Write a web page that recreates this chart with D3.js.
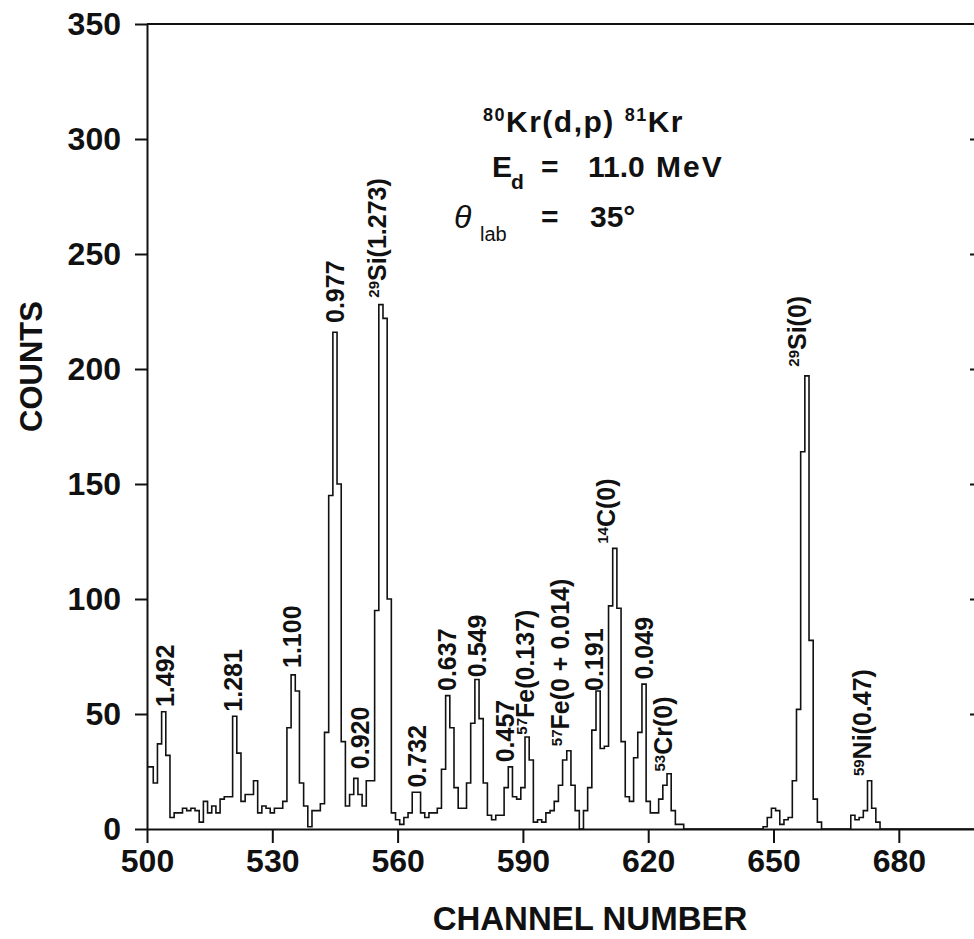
<!DOCTYPE html>
<html>
<head>
<meta charset="utf-8">
<script src="https://cdn.jsdelivr.net/npm/d3@7"></script>
<style>
  body { margin: 0; background: #fff; }
  text { font-family: "Liberation Sans", Arial, sans-serif; font-weight: bold; fill: #111; }
</style>
</head>
<body>
<svg id="chart" width="974" height="939"></svg>
<script>
// counts per channel, starting at channel 500
const firstChannel = 500;
const counts = [
  27, 27, 20, 37, 51, 32, 5, 7, 7, 9,          // 500-509
  8, 9, 8, 3, 12, 7, 10, 7, 13, 14,           // 510-519
  14, 49, 33, 12, 15, 15, 21, 7, 10, 9,       // 520-529
  7, 9, 9, 12, 44, 67, 60, 20, 10, 1,         // 530-539
  8, 8, 11, 42, 145, 216, 150, 38, 10, 15,    // 540-549
  22, 15, 10, 21, 21, 95, 228, 222, 100, 7,   // 550-559
  4, 2, 5, 7, 16, 16, 7, 5, 7, 7,             // 560-569
  9, 26, 58, 44, 18, 9, 9, 20, 46, 65,        // 570-579
  48, 20, 6, 4, 6, 6, 18, 27, 14, 13,         // 580-589
  18, 40, 30, 3, 4, 3, 7, 8, 12, 19,          // 590-599
  30, 34, 19, 8, 0, 8, 18, 43, 60, 35,        // 600-609
  36, 97, 122, 96, 38, 14, 12, 31, 42, 63,    // 610-619
  12, 7, 7, 13, 19, 24, 8, 2, 2, 0,           // 620-629
  0, 0, 0, 0, 0, 0, 0, 0, 0, 0,               // 630-639
  0, 0, 0, 0, 0, 0, 0, 0, 1, 5,               // 640-649
  9, 8, 2, 4, 5, 21, 52, 164, 197, 82,        // 650-659
  13, 3, 0, 0, 0, 0, 0, 0, 0, 6,              // 660-669
  4, 5, 8, 21, 9, 3, 0, 0, 0, 0,              // 670-679
  0, 0, 0, 0, 0, 0, 0, 0, 0, 0,               // 680-689
  0, 0, 0, 0, 0, 0, 0, 0, 0                   // 690-698
];

const xTicks = [500, 530, 560, 590, 620, 650, 680];
const yTicks = [0, 50, 100, 150, 200, 250, 300, 350];
const rightTicks = [50, 100, 150, 200, 250, 300];

// peak labels: mass number (superscript), text, channel and count where the label starts
const peakLabels = [
  { mass: "", name: "1.492", ch: 504.3, at: 53 },
  { mass: "", name: "1.281", ch: 520.7, at: 51 },
  { mass: "", name: "1.100", ch: 534.8, at: 70 },
  { mass: "", name: "0.977", ch: 545.0, at: 220 },
  { mass: "29", name: "Si(1.273)", ch: 557.2, at: 231 },
  { mass: "", name: "0.920", ch: 551.0, at: 26 },
  { mass: "", name: "0.732", ch: 564.7, at: 18 },
  { mass: "", name: "0.637", ch: 571.8, at: 60 },
  { mass: "", name: "0.549", ch: 579.0, at: 66 },
  { mass: "", name: "0.457", ch: 585.8, at: 29 },
  { mass: "57", name: "Fe(0.137)", ch: 592.6, at: 41 },
  { mass: "57", name: "Fe(0 + 0.014)", ch: 601.0, at: 36 },
  { mass: "", name: "0.191", ch: 607.0, at: 60 },
  { mass: "14", name: "C(0)", ch: 612.0, at: 124 },
  { mass: "", name: "0.049", ch: 619.0, at: 65 },
  { mass: "53", name: "Cr(0)", ch: 625.6, at: 25 },
  { mass: "29", name: "Si(0)", ch: 657.8, at: 201 },
  { mass: "59", name: "Ni(0.47)", ch: 673.4, at: 23 }
];

const svg = d3.select("#chart");

const x = d3.scaleLinear().domain([500, 698]).range([147, 974]);
const y = d3.scaleLinear().domain([0, 350]).range([829, 24]);

const data = counts.map((c, i) => ({ ch: firstChannel + i, c: c }));

// frame: top line
svg.append("line")
  .attr("x1", x(500)).attr("x2", 974)
  .attr("y1", y(350)).attr("y2", y(350))
  .attr("stroke", "#111").attr("stroke-width", 2);

// left axis
const yAxis = svg.append("g")
  .attr("transform", `translate(${x(500)},0)`)
  .call(d3.axisLeft(y).tickValues(yTicks).tickSize(12).tickSizeOuter(0).tickPadding(14));
yAxis.select(".domain").attr("stroke", "#111").attr("stroke-width", 2);
yAxis.selectAll(".tick line").attr("stroke", "#111").attr("stroke-width", 2);
yAxis.selectAll(".tick text")
  .style("font-size", "32px")
  .style("font-family", "Liberation Sans, Arial, sans-serif")
  .style("font-weight", "bold")
  .attr("fill", "#111");

// bottom axis
const xAxis = svg.append("g")
  .attr("transform", `translate(0,${y(0)})`)
  .call(d3.axisBottom(x).tickValues(xTicks).tickSize(14).tickSizeOuter(0).tickPadding(6).tickFormat(d3.format("d")));
xAxis.select(".domain").attr("stroke", "#111").attr("stroke-width", 2);
xAxis.selectAll(".tick line").attr("stroke", "#111").attr("stroke-width", 2);
xAxis.selectAll(".tick text")
  .style("font-size", "32px")
  .style("font-family", "Liberation Sans, Arial, sans-serif")
  .style("font-weight", "bold")
  .attr("fill", "#111");

// right side ticks (inward), frame line is cut off by the page edge
const rAxis = svg.append("g")
  .attr("transform", `translate(975,0)`)
  .call(d3.axisLeft(y).tickValues(rightTicks).tickSize(5).tickSizeOuter(0).tickFormat(""));
rAxis.select(".domain").remove();
rAxis.selectAll(".tick line").attr("stroke", "#111").attr("stroke-width", 2);

// histogram
const line = d3.line()
  .x(d => x(d.ch))
  .y(d => y(d.c))
  .curve(d3.curveStep);

svg.append("path")
  .datum(data)
  .attr("d", line)
  .attr("fill", "none")
  .attr("stroke", "#111")
  .attr("stroke-width", 1.6);

// peak labels, rotated; the mass number sits raised before the element
const lbl = svg.selectAll(".peak")
  .data(peakLabels)
  .enter()
  .append("text")
    .attr("class", "peak")
    .attr("transform", d => `translate(${x(d.ch)},${y(d.at)}) rotate(-90)`)
    .attr("dy", "0.36em")
    .style("font-size", "25px");
lbl.filter(d => d.mass !== "")
  .append("tspan")
    .style("font-size", "15px")
    .attr("dy", -7)
    .text(d => d.mass);
lbl.append("tspan")
  .attr("dy", d => d.mass !== "" ? 7 : null)
  .text(d => d.name);

// reaction / beam text
const t1 = svg.append("text").attr("x", 483).attr("y", 132)
  .style("font-size", "30px").attr("letter-spacing", 1.5);
t1.append("tspan").style("font-size", "18px").attr("dy", -11).text("80");
t1.append("tspan").attr("dy", 11).text("Kr(d,p) ");
t1.append("tspan").style("font-size", "18px").attr("dy", -11).text("81");
t1.append("tspan").attr("dy", 11).text("Kr");

svg.append("text").attr("x", 492).attr("y", 177).style("font-size", "30px").text("E");
svg.append("text").attr("x", 511).attr("y", 189).style("font-size", "21px").text("d");
svg.append("text").attr("x", 541).attr("y", 177).style("font-size", "30px").text("=");
svg.append("text").attr("x", 588).attr("y", 177).style("font-size", "30px").text("11.0");
svg.append("text").attr("x", 656).attr("y", 177).style("font-size", "30px").attr("letter-spacing", 2).text("MeV");

svg.append("text").attr("x", 454).attr("y", 228)
  .style("font-size", "32px").style("font-weight", "normal").style("font-style", "italic").text("θ");
svg.append("text").attr("x", 480).attr("y", 241)
  .style("font-size", "20px").style("font-weight", "normal").text("lab");
svg.append("text").attr("x", 541).attr("y", 227).style("font-size", "30px").text("=");
svg.append("text").attr("x", 590).attr("y", 227).style("font-size", "30px").text("35°");

// axis titles
svg.append("text")
  .attr("transform", `translate(42,${(y(0) + y(350)) / 2 - 60}) rotate(-90)`)
  .attr("text-anchor", "middle")
  .style("font-size", "31px")
  .text("COUNTS");

svg.append("text")
  .attr("x", 590)
  .attr("y", 930)
  .attr("text-anchor", "middle")
  .style("font-size", "33px")
  .text("CHANNEL NUMBER");
</script>
</body>
</html>
